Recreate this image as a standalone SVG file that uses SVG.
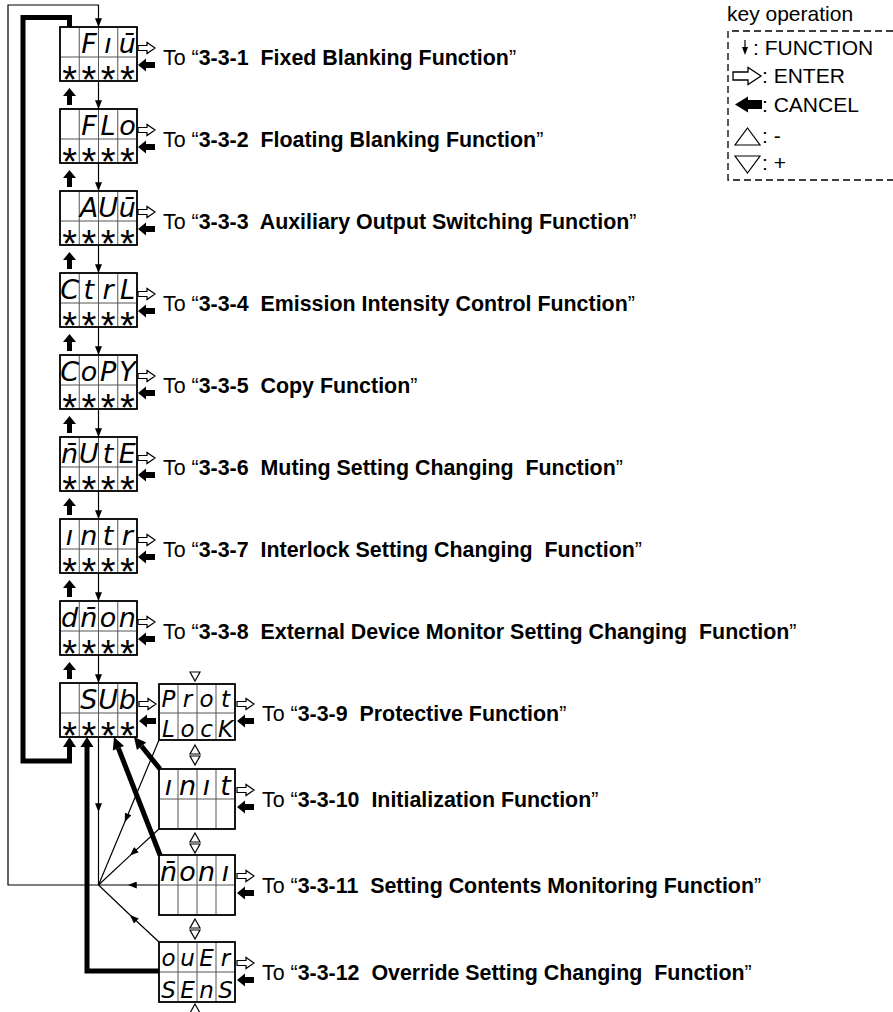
<svg xmlns="http://www.w3.org/2000/svg" xmlns:xlink="http://www.w3.org/1999/xlink" width="893" height="1012" viewBox="0 0 893 1012">
<style>
.lbl{font-family:"Liberation Sans",Arial,sans-serif;font-size:21.4px;fill:#000;white-space:pre}
.lbl tspan{font-weight:bold}
.seg{font-family:"DejaVu Sans",sans-serif;font-style:italic;font-size:27px;text-anchor:middle;fill:#000}
.seg2{font-family:"DejaVu Sans",sans-serif;font-style:italic;font-size:23px;text-anchor:middle;fill:#000}
.ast{font-family:"Liberation Sans",Arial,sans-serif;font-size:38px;text-anchor:middle;fill:#000}
.key{font-family:"Liberation Sans",Arial,sans-serif;font-size:21px;fill:#000}
.thin{fill:none;stroke:#000;stroke-width:1.2}
.thick{fill:none;stroke:#000;stroke-width:5}
.frame{fill:#fff;stroke:#000;stroke-width:1.4}
.cell{stroke:#555;stroke-width:1}
.tri{fill:#fff;stroke:#000;stroke-width:1.2}
</style>
<defs>
<marker id="ah" viewBox="0 0 10 8" refX="10" refY="4" markerWidth="9" markerHeight="7" markerUnits="userSpaceOnUse" orient="auto"><path d="M0,0 L10,4 L0,8 Z" fill="#000"/></marker>
<path id="ent" d="M0,-2.5 H9 V-5.5 L17,0 L9,5.5 V2.5 H0 Z" fill="#fff" stroke="#000" stroke-width="1.2"/>
<path id="can" d="M0,0 L8,-6.5 V-3 H17 V3 H8 V6.5 Z" fill="#000"/>
<path id="up" d="M0,0 L6.5,8 H2.5 V17 H-2.5 V8 H-6.5 Z" fill="#000"/>
<g id="gl"><rect class="frame" x="0" y="0" width="77" height="54"/><path class="cell" d="M19.25,0V54M38.5,0V54M57.75,0V54M0,30H77"/><rect x="0" y="0" width="77" height="54" fill="none" stroke="#000" stroke-width="1.4"/></g>
<g id="gp"><rect class="frame" x="0" y="0" width="76" height="56"/><path class="cell" d="M19,0V56M38,0V56M57,0V56M0,29H76"/><rect x="0" y="0" width="76" height="56" fill="none" stroke="#000" stroke-width="1.4"/></g>
<g id="gr"><rect class="frame" x="0" y="0" width="76" height="60"/><path class="cell" d="M19,0V60M38,0V60M57,0V60M0,30H76"/><rect x="0" y="0" width="76" height="60" fill="none" stroke="#000" stroke-width="1.4"/></g>
</defs>
<rect width="893" height="1012" fill="#fff"/>

<g id="connectors">
<path class="thin" d="M98.5,885 H8 V5 H98.5 V27" marker-end="url(#ah)"/>
<path class="thin" d="M98.5,81 V109" marker-end="url(#ah)"/>
<path class="thin" d="M98.5,163 V191" marker-end="url(#ah)"/>
<path class="thin" d="M98.5,245 V273" marker-end="url(#ah)"/>
<path class="thin" d="M98.5,327 V355" marker-end="url(#ah)"/>
<path class="thin" d="M98.5,409 V437" marker-end="url(#ah)"/>
<path class="thin" d="M98.5,491 V519" marker-end="url(#ah)"/>
<path class="thin" d="M98.5,573 V601" marker-end="url(#ah)"/>
<path class="thin" d="M98.5,655 V683" marker-end="url(#ah)"/>
<path class="thin" d="M98.5,737 V812 L98.5,885" marker-mid="url(#ah)"/>
<path class="thin" d="M159,740 L124.8,822 L98.5,885" marker-mid="url(#ah)"/>
<path class="thin" d="M159,829 L130,855.6 L98.5,885" marker-mid="url(#ah)"/>
<path class="thin" d="M159,885 L128,885 L98.5,885" marker-mid="url(#ah)"/>
<path class="thin" d="M159,942 L130,915 L98.5,885" marker-mid="url(#ah)"/>
<use xlink:href="#up" x="69.5" y="88"/>
<use xlink:href="#up" x="69.5" y="170"/>
<use xlink:href="#up" x="69.5" y="252"/>
<use xlink:href="#up" x="69.5" y="334"/>
<use xlink:href="#up" x="69.5" y="416"/>
<use xlink:href="#up" x="69.5" y="498"/>
<use xlink:href="#up" x="69.5" y="580"/>
<use xlink:href="#up" x="69.5" y="662"/>
<path class="thick" d="M69.5,27 V17.5 H23 V761 H69.5 V746"/>
<path d="M69.5,737 L76,747 H63 Z" fill="#000"/>
<path class="thick" d="M159,971 H87 V746"/>
<path d="M87,737 L93.5,747 H80.5 Z" fill="#000"/>
<path class="thick" d="M160,855 L118.4,748.2"/>
<path d="M114,737 L124,746 L112.8,750.4 Z" fill="#000"/>
<path class="thick" d="M160,769 L141.6,746.3"/>
<path d="M134,737 L146.2,742.5 L136.9,750.1 Z" fill="#000"/>
<use xlink:href="#ent" x="139" y="704"/>
<use xlink:href="#can" x="139" y="721"/>
<path class="tri" d="M190,672 H200 L195,681 Z"/>
<path class="tri" d="M195,745 L200,754 H190 Z"/>
<path class="tri" d="M190,756 H200 L195,765 Z"/>
<path class="tri" d="M195,833 L200,842 H190 Z"/>
<path class="tri" d="M190,844 H200 L195,853 Z"/>
<path class="tri" d="M195,919 L200,928 H190 Z"/>
<path class="tri" d="M190,930 H200 L195,939 Z"/>
<path class="tri" d="M195,1004 L200,1013 H190 Z"/>
</g>

<g id="n1"><use xlink:href="#gl" x="60" y="27"/>
<text class="seg" y="53"><tspan x="88.9">F</tspan><tspan x="108.1">ı</tspan><tspan x="127.4">ū</tspan></text>
<text class="ast" y="93"><tspan x="69.6">*</tspan><tspan x="88.9">*</tspan><tspan x="108.1">*</tspan><tspan x="127.4">*</tspan></text>
<use xlink:href="#ent" x="138" y="48"/><use xlink:href="#can" x="138" y="65"/>
<text class="lbl" x="163" y="65">To “<tspan>3-3-1  Fixed Blanking Function</tspan>”</text></g>

<g id="n2"><use xlink:href="#gl" x="60" y="109"/>
<text class="seg" y="135"><tspan x="88.9">F</tspan><tspan x="108.1">L</tspan><tspan x="127.4">o</tspan></text>
<text class="ast" y="175"><tspan x="69.6">*</tspan><tspan x="88.9">*</tspan><tspan x="108.1">*</tspan><tspan x="127.4">*</tspan></text>
<use xlink:href="#ent" x="138" y="130"/><use xlink:href="#can" x="138" y="147"/>
<text class="lbl" x="163" y="147">To “<tspan>3-3-2  Floating Blanking Function</tspan>”</text></g>

<g id="n3"><use xlink:href="#gl" x="60" y="191"/>
<text class="seg" y="217"><tspan x="88.9">A</tspan><tspan x="108.1">U</tspan><tspan x="127.4">ū</tspan></text>
<text class="ast" y="257"><tspan x="69.6">*</tspan><tspan x="88.9">*</tspan><tspan x="108.1">*</tspan><tspan x="127.4">*</tspan></text>
<use xlink:href="#ent" x="138" y="212"/><use xlink:href="#can" x="138" y="229"/>
<text class="lbl" x="163" y="229">To “<tspan>3-3-3  Auxiliary Output Switching Function</tspan>”</text></g>

<g id="n4"><use xlink:href="#gl" x="60" y="273"/>
<text class="seg" y="299"><tspan x="69.6">C</tspan><tspan x="88.9">t</tspan><tspan x="108.1">r</tspan><tspan x="127.4">L</tspan></text>
<text class="ast" y="339"><tspan x="69.6">*</tspan><tspan x="88.9">*</tspan><tspan x="108.1">*</tspan><tspan x="127.4">*</tspan></text>
<use xlink:href="#ent" x="138" y="294"/><use xlink:href="#can" x="138" y="311"/>
<text class="lbl" x="163" y="311">To “<tspan>3-3-4  Emission Intensity Control Function</tspan>”</text></g>

<g id="n5"><use xlink:href="#gl" x="60" y="355"/>
<text class="seg" y="381"><tspan x="69.6">C</tspan><tspan x="88.9">o</tspan><tspan x="108.1">P</tspan><tspan x="127.4">Y</tspan></text>
<text class="ast" y="421"><tspan x="69.6">*</tspan><tspan x="88.9">*</tspan><tspan x="108.1">*</tspan><tspan x="127.4">*</tspan></text>
<use xlink:href="#ent" x="138" y="376"/><use xlink:href="#can" x="138" y="393"/>
<text class="lbl" x="163" y="393">To “<tspan>3-3-5  Copy Function</tspan>”</text></g>

<g id="n6"><use xlink:href="#gl" x="60" y="437"/>
<text class="seg" y="463"><tspan x="69.6">n̄</tspan><tspan x="88.9">U</tspan><tspan x="108.1">t</tspan><tspan x="127.4">E</tspan></text>
<text class="ast" y="503"><tspan x="69.6">*</tspan><tspan x="88.9">*</tspan><tspan x="108.1">*</tspan><tspan x="127.4">*</tspan></text>
<use xlink:href="#ent" x="138" y="458"/><use xlink:href="#can" x="138" y="475"/>
<text class="lbl" x="163" y="475">To “<tspan>3-3-6  Muting Setting Changing  Function</tspan>”</text></g>

<g id="n7"><use xlink:href="#gl" x="60" y="519"/>
<text class="seg" y="545"><tspan x="69.6">ı</tspan><tspan x="88.9">n</tspan><tspan x="108.1">t</tspan><tspan x="127.4">r</tspan></text>
<text class="ast" y="585"><tspan x="69.6">*</tspan><tspan x="88.9">*</tspan><tspan x="108.1">*</tspan><tspan x="127.4">*</tspan></text>
<use xlink:href="#ent" x="138" y="540"/><use xlink:href="#can" x="138" y="557"/>
<text class="lbl" x="163" y="557">To “<tspan>3-3-7  Interlock Setting Changing  Function</tspan>”</text></g>

<g id="n8"><use xlink:href="#gl" x="60" y="601"/>
<text class="seg" y="627"><tspan x="69.6">d</tspan><tspan x="88.9">n̄</tspan><tspan x="108.1">o</tspan><tspan x="127.4">n</tspan></text>
<text class="ast" y="667"><tspan x="69.6">*</tspan><tspan x="88.9">*</tspan><tspan x="108.1">*</tspan><tspan x="127.4">*</tspan></text>
<use xlink:href="#ent" x="138" y="622"/><use xlink:href="#can" x="138" y="639"/>
<text class="lbl" x="163" y="639">To “<tspan>3-3-8  External Device Monitor Setting Changing  Function</tspan>”</text></g>

<g id="n9"><use xlink:href="#gl" x="60" y="683"/>
<text class="seg" y="709"><tspan x="88.9">S</tspan><tspan x="108.1">U</tspan><tspan x="127.4">b</tspan></text>
<text class="ast" y="749"><tspan x="69.6">*</tspan><tspan x="88.9">*</tspan><tspan x="108.1">*</tspan><tspan x="127.4">*</tspan></text></g>

<g id="n10"><use xlink:href="#gp" x="159" y="684"/>
<text class="seg2" y="707"><tspan x="168.5">P</tspan><tspan x="187.5">r</tspan><tspan x="206.5">o</tspan><tspan x="225.5">t</tspan></text>
<text class="seg2" y="737"><tspan x="168.5">L</tspan><tspan x="187.5">o</tspan><tspan x="206.5">c</tspan><tspan x="225.5">K</tspan></text>
<use xlink:href="#ent" x="237" y="704"/><use xlink:href="#can" x="237" y="721"/>
<text class="lbl" x="262" y="721">To “<tspan>3-3-9  Protective Function</tspan>”</text></g>

<g id="n11"><use xlink:href="#gr" x="159" y="769"/>
<text class="seg" y="795"><tspan x="168.5">ı</tspan><tspan x="187.5">n</tspan><tspan x="206.5">ı</tspan><tspan x="225.5">t</tspan></text>
<use xlink:href="#ent" x="237" y="790"/><use xlink:href="#can" x="237" y="807"/>
<text class="lbl" x="262" y="807">To “<tspan>3-3-10  Initialization Function</tspan>”</text></g>

<g id="n12"><use xlink:href="#gr" x="159" y="855"/>
<text class="seg" y="881"><tspan x="168.5">n̄</tspan><tspan x="187.5">o</tspan><tspan x="206.5">n</tspan><tspan x="225.5">ı</tspan></text>
<use xlink:href="#ent" x="237" y="876"/><use xlink:href="#can" x="237" y="893"/>
<text class="lbl" x="262" y="893">To “<tspan>3-3-11  Setting Contents Monitoring Function</tspan>”</text></g>

<g id="n13"><use xlink:href="#gr" x="159" y="942"/>
<text class="seg2" y="966"><tspan x="168.5">o</tspan><tspan x="187.5">u</tspan><tspan x="206.5">E</tspan><tspan x="225.5">r</tspan></text>
<text class="seg2" y="998"><tspan x="168.5">S</tspan><tspan x="187.5">E</tspan><tspan x="206.5">n</tspan><tspan x="225.5">S</tspan></text>
<use xlink:href="#ent" x="237" y="963"/><use xlink:href="#can" x="237" y="980"/>
<text class="lbl" x="262" y="980">To “<tspan>3-3-12  Override Setting Changing  Function</tspan>”</text></g>

<g id="legend">
<text class="key" x="727" y="21">key operation</text>
<path d="M893,31 H728 V180 H893" fill="none" stroke="#000" stroke-width="1.3" stroke-dasharray="7,4"/>
<path d="M745,40 V48" stroke="#000" stroke-width="1.2"/>
<path d="M742,47 L748,47 L745,55 Z" fill="#000"/>
<text class="key" x="753" y="55">: FUNCTION</text>
<path d="M733,72 H748 V67.5 L761,76 L748,84.5 V80 H733 Z" fill="#fff" stroke="#000" stroke-width="1.3"/>
<text class="key" x="762" y="83">: ENTER</text>
<path d="M735,104.5 L748,96.5 V100 H762 V109 H748 V112.5 Z" fill="#000"/>
<text class="key" x="762" y="112">: CANCEL</text>
<path class="tri" d="M747.5,128 L760,145 H735 Z"/>
<text class="key" x="762" y="143">: -</text>
<path class="tri" d="M735,156 H760 L747.5,173 Z"/>
<text class="key" x="762" y="170">: +</text>
</g>
</svg>
